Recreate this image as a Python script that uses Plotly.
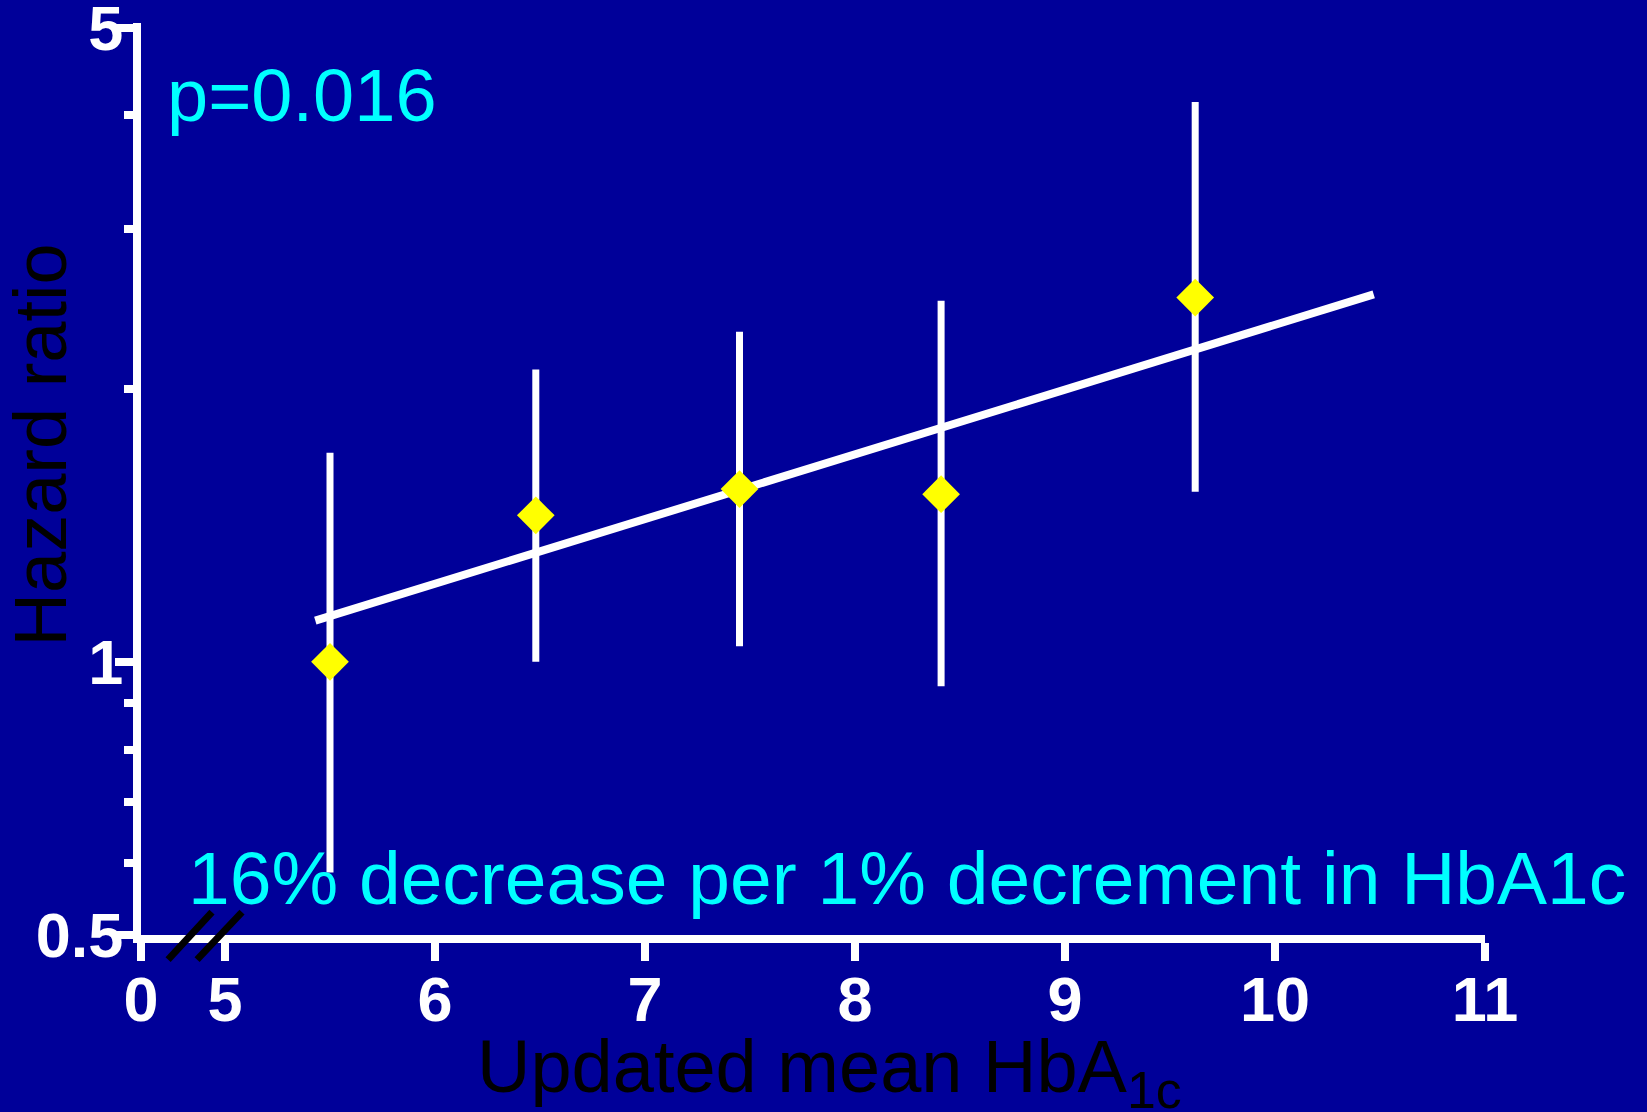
import math
import plotly.graph_objects as go

# ---- data ----
hba1c = [5.50, 6.48, 7.45, 8.41, 9.62]
hazard_ratio = [1.00, 1.45, 1.55, 1.53, 2.52]
ci_upper = [1.70, 2.10, 2.31, 2.50, 4.14]
ci_lower = [0.586, 1.00, 1.04, 0.94, 1.54]

trend_x = [5.43, 10.47]
trend_y = [1.11, 2.54]

x_tickvals = [4.6, 5, 6, 7, 8, 9, 10, 11]
x_ticktext = ["0", "5", "6", "7", "8", "9", "10", "11"]
y_tickvals = [0.5, 1, 5]
y_ticktext = ["0.5", "1", "5"]
y_minor_vals = [0.6, 0.7, 0.8, 0.9, 2, 3, 4]

BG = "#000099"
CYAN = "#00FFFF"
FONT = "Arial, Liberation Sans, sans-serif"

err_plus = [u - v for u, v in zip(ci_upper, hazard_ratio)]
err_minus = [v - l for v, l in zip(hazard_ratio, ci_lower)]

fig = go.Figure()
fig.add_trace(go.Scatter(
    x=trend_x, y=trend_y, mode="lines",
    line=dict(color="white", width=8), hoverinfo="skip", showlegend=False,
))
fig.add_trace(go.Scatter(
    x=hba1c, y=hazard_ratio, mode="markers",
    marker=dict(symbol="diamond", size=29, color="#FFFF00", line=dict(width=0)),
    error_y=dict(type="data", symmetric=False, array=err_plus, arrayminus=err_minus,
                 color="white", thickness=7, width=0),
    showlegend=False, cliponaxis=False,
))

fig.update_layout(
    width=1647, height=1112,
    paper_bgcolor=BG, plot_bgcolor=BG,
    margin=dict(l=141, r=162, t=23, b=177, autoexpand=False),
    showlegend=False,
    xaxis=dict(
        range=[4.6, 11], showgrid=False, zeroline=False, automargin=False,
        showline=True, linecolor="white", linewidth=8,
        tickmode="array", tickvals=x_tickvals, ticktext=x_ticktext,
        ticks="outside", ticklen=18, tickwidth=8, tickcolor="white",
        ticklabelstandoff=-16, ticklabeloverflow="allow",
        tickfont=dict(family=FONT, size=63, color="white", weight="bold"),
    ),
    yaxis=dict(
        type="log", range=[math.log10(0.5), math.log10(5) + 4.5 / 908],
        showgrid=False, zeroline=False, automargin=False,
        showline=True, linecolor="white", linewidth=8,
        tickmode="array", tickvals=y_tickvals, ticktext=y_ticktext,
        ticks="outside", ticklen=18, tickwidth=8, tickcolor="white",
        ticklabelstandoff=-21, ticklabeloverflow="allow",
        tickfont=dict(family=FONT, size=63, color="white", weight="bold"),
        minor=dict(tickmode="array", tickvals=y_minor_vals, ticks="outside",
                   ticklen=9, tickwidth=8, tickcolor="white", showgrid=False),
    ),
)

# axis break marks
for x0, x1 in [(4.729, 4.938), (4.867, 5.081)]:
    fig.add_shape(type="line", xref="x", yref="paper", x0=x0, x1=x1, y0=-0.027, y1=0.025,
                  line=dict(color="black", width=7), layer="above")

fig.add_annotation(text="p=0.016", xref="paper", yref="paper", x=0.018, y=0.921,
                   xanchor="left", yanchor="middle", showarrow=False,
                   font=dict(family=FONT, size=74, color=CYAN))
fig.add_annotation(text="16% decrease per 1% decrement in HbA1c", xref="paper", yref="paper",
                   x=0.570, y=0.062, xanchor="center", yanchor="middle", showarrow=False,
                   font=dict(family=FONT, size=75, color=CYAN))
fig.add_annotation(text="Hazard ratio", xref="paper", yref="paper", x=-0.075, y=0.537,
                   xanchor="center", yanchor="middle", textangle=-90, showarrow=False,
                   font=dict(family=FONT, size=74, color="black"))
fig.add_annotation(text="Updated mean HbA<sub>1c</sub>", xref="paper", yref="paper",
                   x=0.5126, y=-0.15, xanchor="center", yanchor="middle", showarrow=False,
                   font=dict(family=FONT, size=74, color="black"))

post = ("document.body.style.margin='0';document.body.style.padding='0';"
        "document.body.style.background='#000099';document.body.style.overflow='hidden';")
fig.write_html("out.html", config={"displayModeBar": False}, post_script=post)
